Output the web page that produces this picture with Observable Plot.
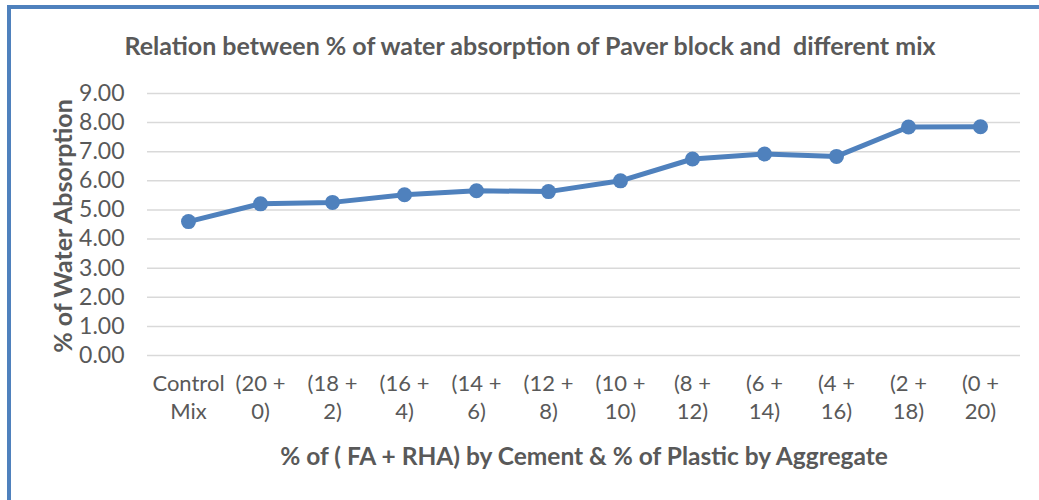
<!DOCTYPE html>
<html>
<head>
<meta charset="utf-8">
<script src="https://cdn.jsdelivr.net/npm/d3@7"></script>
<script src="https://cdn.jsdelivr.net/npm/@observablehq/plot@0.6"></script>
<style>
  html, body { margin: 0; padding: 0; background: #fff; }
  #wrap { position: relative; width: 1039px; height: 500px; overflow: hidden; font-family: Lato, "Open Sans", sans-serif; }
  #frame { position: absolute; left: 7px; top: 5px; width: 1100px; height: 600px; border-left: 4px solid #4F81BD; border-top: 4px solid #4F81BD; box-sizing: border-box; }
  .t { position: absolute; color: #595959; font-weight: bold; white-space: nowrap; }
  #title { left: 530px; top: 45px; transform: translate(-50%, -50%); font-size: 25px; }
  #xtitle { left: 584px; top: 455px; transform: translate(-50%, -50%); font-size: 24.5px; }
  #ytitle { left: 62px; top: 226px; transform: translate(-50%, -50%) rotate(-90deg); font-size: 25px; }
  #chart { position: absolute; left: 0; top: 0; }
</style>
</head>
<body>
<div id="wrap">
  <div id="chart"></div>
  <div id="frame"></div>
  <div class="t" id="title">Relation between % of water absorption of Paver block and&nbsp; different mix</div>
  <div class="t" id="ytitle">% of Water Absorption</div>
  <div class="t" id="xtitle">% of ( FA + RHA) by Cement &amp; % of Plastic by Aggregate</div>
</div>
<script>
const categories = ["Control\nMix", "(20 +\n0)", "(18 +\n2)", "(16 +\n4)", "(14 +\n6)", "(12 +\n8)", "(10 +\n10)", "(8 +\n12)", "(6 +\n14)", "(4 +\n16)", "(2 +\n18)", "(0 +\n20)"];
const absorption = [4.60, 5.21, 5.26, 5.52, 5.66, 5.63, 6.00, 6.75, 6.92, 6.84, 7.85, 7.86];
const yTicks = [0, 1, 2, 3, 4, 5, 6, 7, 8, 9];

const data = categories.map((c, i) => ({mix: c, value: absorption[i]}));
const blue = "#4F81BD";

const chart = Plot.plot({
  width: 1039,
  height: 500,
  marginLeft: 147,
  marginRight: 19,
  marginTop: 93,
  marginBottom: 145,
  style: {fontFamily: "Lato, 'Open Sans', sans-serif", background: "transparent"},
  x: {type: "point", domain: categories, padding: 0.5, label: null},
  y: {domain: [0, 9], label: null},
  marks: [
    Plot.ruleY(yTicks, {stroke: "#d9d9d9", strokeWidth: 1.5}),
    Plot.axisY({ticks: yTicks, tickFormat: d => d.toFixed(2), tickSize: 0, tickPadding: 23, fontSize: 23, fill: "#595959", label: null}),
    Plot.axisX({tickSize: 0, tickPadding: 16, fontSize: 22, fill: "#595959", lineHeight: 1.27, label: null}),
    Plot.line(data, {x: "mix", y: "value", stroke: blue, strokeWidth: 5}),
    Plot.dot(data, {x: "mix", y: "value", fill: blue, r: 7.5})
  ]
});
document.getElementById("chart").appendChild(chart);
</script>
</body>
</html>
